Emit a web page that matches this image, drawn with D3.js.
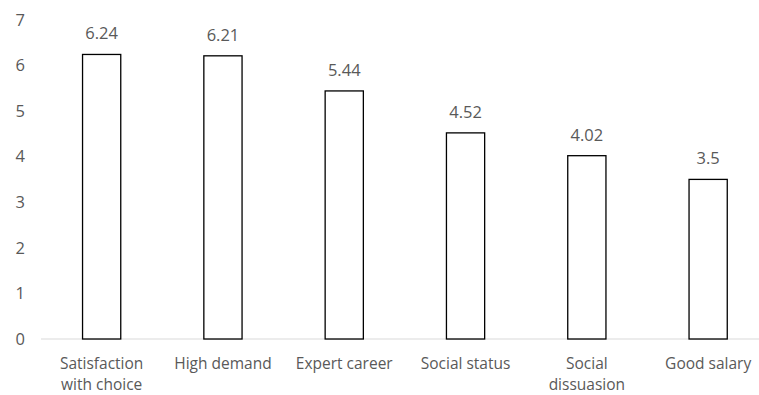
<!DOCTYPE html>
<html>
<head>
<meta charset="utf-8">
<script src="https://cdn.jsdelivr.net/npm/d3@7"></script>
<style>
  body { margin: 0; background: #fff; }
  text { font-family: "Open Sans", sans-serif; fill: #595959; }
</style>
</head>
<body>
<div id="chart"></div>
<script>
const categories = ["Satisfaction\nwith choice", "High demand", "Expert career", "Social status", "Social\ndissuasion", "Good salary"];
const values = [6.24, 6.21, 5.44, 4.52, 4.02, 3.5];
const yTicks = [0, 1, 2, 3, 4, 5, 6, 7];

const width = 759, height = 395;
const baseY = 339, topY = 19.8;
const left = 41, step = 121.3;
const fontSize = "16.5px";

const svg = d3.select("#chart").append("svg")
  .attr("width", width).attr("height", height);

const x = d3.scaleBand().domain(categories)
  .range([left, left + step * categories.length])
  .paddingInner(0.685).paddingOuter(0.3425);
const y = d3.scaleLinear().domain([0, 7]).range([baseY, topY]);

// y labels (no axis line)
svg.selectAll(".ytick").data(yTicks).enter().append("text")
  .attr("class", "ytick")
  .attr("x", 25).attr("y", d => y(d))
  .attr("dy", "0.35em")
  .attr("text-anchor", "end")
  .style("font-size", fontSize)
  .text(d => d);

// x axis line
svg.append("line")
  .attr("x1", left).attr("x2", width)
  .attr("y1", baseY).attr("y2", baseY)
  .attr("stroke", "#d9d9d9").attr("stroke-width", 1);

// bars
svg.selectAll(".bar").data(values).enter().append("rect")
  .attr("class", "bar")
  .attr("x", (d, i) => x(categories[i]))
  .attr("y", d => y(d))
  .attr("width", x.bandwidth())
  .attr("height", d => baseY - y(d))
  .attr("fill", "#fff")
  .attr("stroke", "#000")
  .attr("stroke-width", 1.3);

// value labels
svg.selectAll(".val").data(values).enter().append("text")
  .attr("class", "val")
  .attr("x", (d, i) => x(categories[i]) + x.bandwidth() / 2)
  .attr("y", d => y(d) - 15)
  .attr("text-anchor", "middle")
  .style("font-size", fontSize)
  .text(d => d);

// category labels
const cat = svg.selectAll(".cat").data(categories).enter().append("text")
  .attr("class", "cat")
  .attr("x", d => x(d) + x.bandwidth() / 2)
  .attr("y", 369)
  .attr("text-anchor", "middle")
  .style("font-size", "15.5px");
cat.selectAll("tspan").data(d => d.split("\n")).enter().append("tspan")
  .attr("x", function () { return d3.select(this.parentNode).attr("x"); })
  .attr("dy", (d, i) => i === 0 ? 0 : 21.3)
  .text(d => d);
</script>
</body>
</html>
